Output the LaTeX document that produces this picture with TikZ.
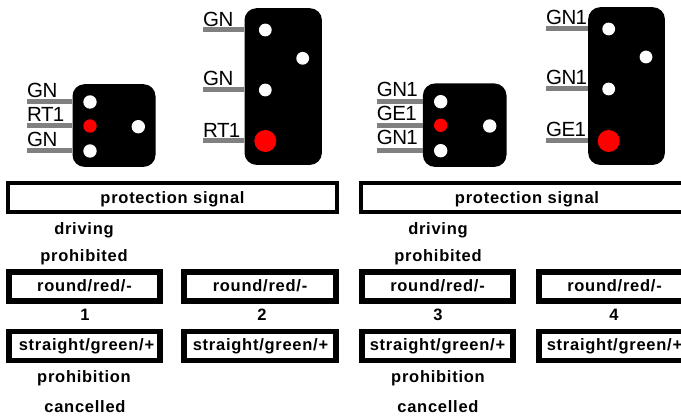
\documentclass[tikz,border=0pt]{standalone}
\usepackage{fontspec}
\setmainfont{Liberation Sans}[LetterSpace=-3]
\newfontfamily\capfont{Liberation Sans Bold}[LetterSpace=4.5]
\tikzset{
  x=1pt,y=-1pt,
  sigbox/.style={fill=black,draw=none,rounded corners=12pt,inner sep=0pt,anchor=north west},
  lamp/.style={circle,fill=white,draw=none,inner sep=0pt,minimum size=13.4pt},
  redlamp/.style={lamp,fill=red},
  bigred/.style={lamp,fill=red,minimum size=22pt},
  wire/.style={draw=gray,line width=5pt},
  wlabel/.style={anchor=base west,inner sep=0pt,font=\fontsize{20.5}{21}\selectfont},
  captxt/.style={anchor=base,inner sep=0pt,font=\capfont\fontsize{16.5}{17}\selectfont},
  banner/.style={draw=black,fill=white,line width=3.8pt,inner sep=0pt,minimum height=29pt,text height=13pt,text depth=0pt,font=\capfont\fontsize{16.5}{17}\selectfont},
  aspect/.style={draw=black,fill=white,line width=5.6pt,inner sep=0pt,minimum width=151.5pt,minimum height=29pt,text depth=0pt,font=\capfont\fontsize{16.5}{17}\selectfont},
  redrow/.style={aspect,text height=11.2pt},
  greenrow/.style={aspect,text height=9.8pt},
}
\begin{document}
\begin{tikzpicture}
\useasboundingbox (0,0) rectangle (681,419);
\clip (0,0) rectangle (681,419);
\fill[white] (0,0) rectangle (681,419);

% signal A
\node[sigbox,minimum width=83pt,minimum height=82.7pt] (sa) at (72.3,84) {};
\node[lamp] (a1) at (90,102) {};
\node[redlamp] (a2) at (90,126) {};
\node[lamp] (a3) at (90,151) {};
\node[lamp] (a4) at (138.3,126.7) {};
\coordinate (wa1) at (27,102);
\coordinate (wa2) at (27,125.3);
\coordinate (wa3) at (27,150.3);
\draw[wire] (wa1) -- (wa1 -| sa.west);
\draw[wire] (wa2) -- (wa2 -| sa.west);
\draw[wire] (wa3) -- (wa3 -| sa.west);
\node[wlabel] (la1) at (27,97.5) {GN};
\node[wlabel] (la2) at (27,121.7) {RT1};
\node[wlabel] (la3) at (27,146.7) {GN};

% signal B
\node[sigbox,minimum width=77.4pt,minimum height=156.7pt] (sb) at (244.3,8) {};
\node[lamp,minimum size=12.8pt] (b1) at (265.3,30) {};
\node[lamp,minimum size=12.8pt] (b2) at (302.7,58.3) {};
\node[lamp,minimum size=12.8pt] (b3) at (265.3,90) {};
\node[bigred] (b4) at (265.3,141) {};
\coordinate (wb1) at (203,30);
\coordinate (wb2) at (203,90);
\coordinate (wb3) at (203,141);
\draw[wire] (wb1) -- (wb1 -| sb.west);
\draw[wire] (wb2) -- (wb2 -| sb.west);
\draw[wire] (wb3) -- (wb3 -| sb.west);
\node[wlabel] (lb1) at (203,26.7) {GN};
\node[wlabel] (lb2) at (203,85.7) {GN};
\node[wlabel] (lb3) at (203,137.7) {RT1};

% signal C
\node[sigbox,minimum width=83.6pt,minimum height=83.4pt] (sc) at (422.7,83.3) {};
\node[lamp] (c1) at (440.7,101.7) {};
\node[redlamp] (c2) at (440.7,125.3) {};
\node[lamp] (c3) at (440.7,150.7) {};
\node[lamp] (c4) at (489.7,126) {};
\coordinate (wc1) at (377,101.3);
\coordinate (wc2) at (377,125.3);
\coordinate (wc3) at (377,150.3);
\draw[wire] (wc1) -- (wc1 -| sc.west);
\draw[wire] (wc2) -- (wc2 -| sc.west);
\draw[wire] (wc3) -- (wc3 -| sc.west);
\node[wlabel] (lc1) at (376.7,96.7) {GN1};
\node[wlabel] (lc2) at (376.7,120.7) {GE1};
\node[wlabel] (lc3) at (376.7,145) {GN1};

% signal D
\node[sigbox,minimum width=76.7pt,minimum height=157.7pt] (sd) at (588,7) {};
\node[lamp,minimum size=12.8pt] (d1) at (608.7,29) {};
\node[lamp,minimum size=12.8pt] (d2) at (646,57) {};
\node[lamp,minimum size=12.8pt] (d3) at (608.7,89) {};
\node[bigred] (d4) at (608.7,141) {};
\coordinate (wd1) at (546,29);
\coordinate (wd2) at (546,89);
\coordinate (wd3) at (546,141);
\draw[wire] (wd1) -- (wd1 -| sd.west);
\draw[wire] (wd2) -- (wd2 -| sd.west);
\draw[wire] (wd3) -- (wd3 -| sd.west);
\node[wlabel] (ld1) at (546,25) {GN1};
\node[wlabel] (ld2) at (546,85) {GN1};
\node[wlabel] (ld3) at (546,136.7) {GE1};

% banners
\node[banner,minimum width=329pt] (ban1) at (172.5,197.4) {protection signal};
\node[banner,minimum width=332pt] (ban2) at (527,197.4) {protection signal};

% aspect boxes
\node[redrow] (r1) at (84.5,286.4) {round/red/-};
\node[redrow] (r2) at (260,286.4) {round/red/-};
\node[redrow] (r3) at (437.5,286.4) {round/red/-};
\node[redrow] (r4) at (614.5,286.4) {round/red/-};
\node[greenrow] (g1) at (84.5,346) {\hspace*{4pt}straight/green/+};
\node[greenrow] (g2) at (260,346) {\hspace*{1pt}straight/green/+};
\node[greenrow] (g3) at (437.5,346) {straight/green/+};
\node[greenrow] (g4) at (614.5,346) {straight/green/+};

% captions
\node[captxt] (t1) at (84,235) {driving};
\node[captxt] (t2) at (84,262) {prohibited};
\node[captxt] (t3) at (85,320.7) {1};
\node[captxt] (t4) at (262,320.7) {2};
\node[captxt] (t5) at (84,383) {prohibition};
\node[captxt] (t6) at (85,413) {cancelled};
\node[captxt] (t7) at (438,235) {driving};
\node[captxt] (t8) at (438,262) {prohibited};
\node[captxt] (t9) at (438,320.7) {3};
\node[captxt] (t10) at (614,320.7) {4};
\node[captxt] (t11) at (438,383) {prohibition};
\node[captxt] (t12) at (438,413) {cancelled};
\end{tikzpicture}
\end{document}
